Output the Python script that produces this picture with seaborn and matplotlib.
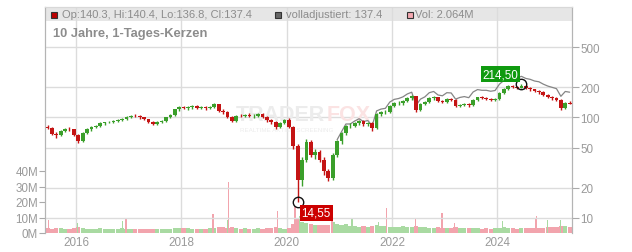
import numpy as np
import pandas as pd
import matplotlib
matplotlib.use("Agg")
import matplotlib.pyplot as plt
from matplotlib.patches import Rectangle
import seaborn as sns

# ---------------- data (monthly candles, Jun 2015 .. May 2025) ----------------
start_year = 2015.417
first_open = 81
closes = [78, 69, 67, 74, 77, 76, 67,
          58, 70, 76, 80, 83, 87, 89, 91, 92, 95, 97, 101,
          104, 103, 100, 96, 90, 86, 90, 92, 100, 106, 120, 126,
          124, 127, 131, 125, 128, 124, 128, 135, 116, 114, 100, 93,
          104, 103, 106, 103, 104, 107, 102, 94, 90, 80, 88, 95,
          80, 52, 24, 38, 57, 42, 45, 38, 29, 25, 42, 58,
          70, 83, 83, 88, 92, 86, 88, 78, 108, 112, 113, 130,
          138, 140, 145, 155, 162, 118, 135, 142, 155, 158, 145, 142,
          152, 150, 130, 134, 136, 132, 150, 158, 155, 154, 150, 152,
          175, 190, 205, 200, 198, 205, 195, 190, 182, 178, 168, 160,
          155, 150, 125, 140, 137.4]
highs = [84, 80, 72, 75, 79, 80, 77,
         69, 71, 78, 82, 85, 89, 91, 93, 95, 97, 99, 103,
         106, 107, 105, 102, 97, 92, 92, 94, 101, 108, 122, 129,
         131, 130, 134, 134, 131, 131, 131, 138, 137, 120, 116, 103,
         106, 108, 109, 110, 107, 110, 110, 104, 96, 92, 90, 97,
         98, 82, 55, 40, 61, 60, 48, 47, 40, 31, 44, 60,
         72, 85, 88, 91, 95, 94, 91, 90, 110, 116, 118, 132,
         142, 146, 149, 158, 166, 164, 138, 146, 158, 162, 160, 149,
         155, 156, 152, 137, 140, 139, 153, 161, 162, 159, 157, 156,
         178, 194, 209, 210, 206, 214.5, 208, 199, 193, 186, 181, 171,
         164, 159, 152, 143, 145]
lows = [76, 67, 63, 65, 72, 73, 65,
        56, 57, 68, 74, 78, 80, 85, 87, 88, 90, 92, 95,
        99, 100, 97, 94, 88, 84, 84, 87, 90, 98, 104, 117,
        120, 119, 122, 120, 121, 119, 121, 124, 113, 108, 98, 89,
        91, 100, 100, 100, 99, 101, 99, 90, 86, 76, 78, 86,
        78, 48, 14.55, 21, 36, 40, 39, 36, 27, 23.5, 24, 40,
        55, 67, 79, 80, 85, 83, 82, 73, 76, 104, 107, 110,
        127, 133, 134, 141, 150, 113, 115, 132, 138, 150, 141, 138,
        139, 146, 126, 127, 130, 128, 130, 147, 151, 150, 146, 147,
        150, 172, 187, 195, 193, 195, 190, 184, 178, 172, 164, 156,
        150, 146, 119, 121, 135]
# volladjustiert (from Dec 2020 on; identical to price before)
adj_start = 66
adjusted = [60,
            72, 86, 86, 92, 97, 91, 93, 83, 116, 121, 123, 142,
            151, 154, 160, 171, 178, 132, 152, 160, 176, 181, 167, 164,
            176, 175, 152, 158, 161, 157, 179, 189, 186, 186, 182, 185,
            214, 233, 253, 248, 246, 256, 244, 239, 230, 226, 214, 205,
            199, 193, 162, 181, 178]
# monthly base volume (millions)
volume = [3.2, 2.8, 3.5, 3.0, 2.6, 2.9, 3.1,
          3.8, 3.4, 2.9, 2.7, 2.5, 3.1, 2.6, 2.4, 2.8, 2.7, 3.3, 2.9,
          2.6, 2.5, 2.8, 2.6, 2.4, 2.7, 2.9, 2.6, 2.5, 2.8, 3.2, 3.0,
          3.4, 3.1, 2.9, 2.7, 2.8, 2.6, 3.0, 3.3, 3.6, 3.9, 3.5, 3.8,
          3.2, 2.9, 3.0, 2.8, 2.7, 3.1, 2.9, 3.3, 3.0, 3.6, 3.2, 2.9,
          3.5, 5.8, 9.5, 7.2, 6.5, 5.8, 5.2, 4.9, 5.4, 5.0, 6.8, 5.6,
          5.2, 5.5, 4.8, 4.3, 4.1, 4.4, 4.0, 4.6, 4.9, 4.2, 4.5, 4.1,
          4.0, 3.8, 4.2, 3.9, 3.6, 4.4, 4.0, 3.7, 3.5, 3.4, 3.6, 3.3,
          3.4, 3.2, 3.6, 3.1, 3.0, 3.2, 3.3, 3.0, 2.9, 3.1, 2.8, 3.0,
          3.4, 3.6, 3.2, 3.0, 2.9, 3.1, 3.5, 3.2, 3.4, 3.0, 3.3, 3.8,
          3.6, 3.9, 4.5, 4.8, 3.9]
# single-day volume spikes
spike_dates = [2015.47, 2016.02, 2016.89, 2016.95, 2018.60, 2018.88, 2018.90,
               2019.83, 2020.16, 2020.25, 2020.86, 2021.24, 2021.75, 2021.90,
               2022.45, 2022.95, 2023.19, 2024.10, 2024.73, 2024.75, 2024.96, 2025.20]
spike_vols = [8.5, 6.5, 8.0, 10.0, 12.5, 8.5, 33.0,
              14.4, 17.6, 11.0, 17.0, 9.7, 7.3, 16.0,
              10.0, 13.0, 6.5, 8.0, 9.0, 11.0, 8.5, 8.5]
spike_up = [False, True, True, False, False, True, False,
            False, False, True, False, True, True, False,
            False, False, False, True, False, False, True, True]

year_ticks = [2016, 2018, 2020, 2022, 2024]
price_ticks = [10, 20, 50, 100, 200, 500]
vol_ticks = [0, 10, 20, 30, 40]

legend_ohlc = "Op:140.3, Hi:140.4, Lo:136.8, Cl:137.4"
legend_adj = "volladjustiert: 137.4"
legend_vol = "Vol: 2.064M"
title = "10 Jahre, 1-Tages-Kerzen"
low_label, high_label = "14,55", "214,50"

# ---------------- styling ----------------
sns.set_style("white")
plt.rcParams['font.family'] = ['Liberation Sans', 'DejaVu Sans']

UP = '#3a9f2a'
DOWN = '#c41414'
VUP = '#a9daa2'
VDOWN = '#f2a4ad'
TXT = '#9a9a9a'
GRID = '#dcdcdc'

n = len(closes)
opens = [first_open] + closes[:-1]
t = start_year + (np.arange(n) + 0.5) / 12.0
df = pd.DataFrame({'t': t, 'open': opens, 'close': closes, 'high': highs,
                   'low': lows, 'vol': volume})
df['up'] = df['close'] >= df['open']

W, H = 632, 253
fig = plt.figure(figsize=(W / 100, H / 100), dpi=100)
left, right, top, bottom = 45, 572, 8, 234
ax = fig.add_axes([left / W, 1 - bottom / H, (right - left) / W, (bottom - top) / H])
ax2 = ax.twinx()

xmin, xmax = 2015.41, 2025.42
ax.set_xlim(xmin, xmax)

# legend band
ax.add_patch(Rectangle((0, (bottom - 22) / (bottom - top)), 1, 1 - (bottom - 22) / (bottom - top),
                       transform=ax.transAxes, facecolor='#e6e6e6', edgecolor='none', zorder=0))
for yr in year_ticks:
    ax.axvline(yr, color=GRID, lw=1, zorder=0.5)

# volume
ax.bar(df['t'], df['vol'], width=1 / 12 * 0.95,
       color=[VUP if u else VDOWN for u in df['up']], linewidth=0, zorder=1)
ax.bar(spike_dates, spike_vols, width=0.022,
       color=[VUP if u else VDOWN for u in spike_up], linewidth=0, zorder=1.2)
ax.set_ylim(0, (bottom - top) / 15.5 * 10)
ax.set_yticks(vol_ticks)
ax.set_yticklabels([f"{v}M" for v in vol_ticks])
ax.set_xticks(year_ticks)
ax.set_xticklabels([str(y) for y in year_ticks])
ax.tick_params(axis='y', left=True, length=4, color='#aaaaaa', labelcolor=TXT,
               labelsize=8.4, pad=1)
ax.tick_params(axis='x', bottom=False, length=0, labelcolor=TXT, labelsize=8.4, pad=2)

# price (log)
ax2.set_yscale('log')
y_lo = 10 * 10 ** ((219 - bottom) / 100.6)
y_hi = 10 * 10 ** ((219 - top) / 100.6)
ax2.set_ylim(y_lo, y_hi)
ax2.set_yticks(price_ticks)
ax2.set_yticklabels([str(p) for p in price_ticks])
ax2.yaxis.set_minor_locator(matplotlib.ticker.NullLocator())
ax2.tick_params(axis='y', right=True, length=5, color='#aaaaaa', labelcolor=TXT,
                labelsize=8.4, pad=1)
for p in price_ticks:
    ax2.axhline(p, color=GRID, lw=1, zorder=0.6)

# adjusted line
adj_df = pd.DataFrame({'t': t[adj_start:], 'adj': adjusted})
sns.lineplot(data=adj_df, x='t', y='adj', ax=ax2, color='#858585', lw=0.9, zorder=2)

# candles
cols = [UP if u else DOWN for u in df['up']]
ax2.vlines(df['t'], df['low'], df['high'], colors=cols, lw=1.0, zorder=3)
body_lo = np.minimum(df['open'], df['close'])
body_hi = np.maximum(df['open'], df['close'])
ax2.bar(df['t'], body_hi - body_lo, bottom=body_lo, width=1 / 12 * 0.85,
        color=cols, linewidth=0, zorder=3)

# min / max markers
i_lo = int(np.argmin(lows))
i_hi = int(np.argmax(highs))
for i in (i_lo, i_hi):
    ax2.plot(t[i], lows[i] if i == i_lo else highs[i], marker='o', ms=7.5,
             mfc='none', mec='#111111', mew=1, zorder=5)
ax2.annotate(low_label, xy=(t[i_lo], lows[i_lo]), xytext=(4, -11), textcoords='offset pixels',
             ha='left', va='center', color='white', fontsize=8.4, zorder=6,
             bbox=dict(boxstyle='square,pad=0.18', fc='#cc0000', ec='none'))
ax2.annotate(high_label, xy=(t[i_hi], highs[i_hi]), xytext=(-3, 10), textcoords='offset pixels',
             ha='right', va='center', color='white', fontsize=8.4, zorder=6,
             bbox=dict(boxstyle='square,pad=0.18', fc='#109a10', ec='none'))
ax2.set_xlabel('')
ax2.set_ylabel('')
ax.set_xlabel('')
ax.set_ylabel('')

# watermark (FOX placed right after the measured end of TRADER)
wm1 = ax2.text(236, H - 116, "TRADER", transform=None, fontsize=15.5, fontweight='bold',
               color='#ececec', va='center', ha='left', zorder=0.7)
fig.canvas.draw()
bb = wm1.get_window_extent(renderer=fig.canvas.get_renderer())
ax2.text(bb.x1 + 1, H - 116, "FOX", transform=None, fontsize=15.5, fontweight='bold',
         color='#fbe3e3', va='center', ha='left', zorder=0.7)
ax2.text(240, H - 131, "REALTIME AKTIEN SCREENING", transform=None, fontsize=4.5,
         color='#ececec', va='center', ha='left', zorder=0.7)

# spines
for a in (ax, ax2):
    a.spines['bottom'].set_visible(False)
    a.spines['top'].set_color('#d8d8d8')
    a.spines['left'].set_color('#b4b4b4')
    a.spines['right'].set_color('#b4b4b4')
    a.set_xlim(xmin, xmax)

# legend band contents
def px(x, y):
    return x / W, 1 - y / H

fig.patches.append(Rectangle(px(51, 18.5), 5.5 / W, 5.5 / H, transform=fig.transFigure,
                             facecolor='#bb0000', edgecolor='#333333', lw=0.8, zorder=10))
fig.patches.append(Rectangle(px(275, 18.5), 5.5 / W, 5.5 / H, transform=fig.transFigure,
                             facecolor='#666666', edgecolor='#333333', lw=0.8, zorder=10))
fig.patches.append(Rectangle(px(407, 18.5), 5.5 / W, 5.5 / H, transform=fig.transFigure,
                             facecolor='#f4a8b0', edgecolor='#333333', lw=0.8, zorder=10))
fig.text(*px(62.5, 15.5), legend_ohlc, fontsize=8, color='#8c8c8c', va='center', ha='left')
fig.text(*px(286, 15.5), legend_adj, fontsize=8, color='#8c8c8c', va='center', ha='left')
fig.text(*px(415, 15.5), legend_vol, fontsize=8, color='#8c8c8c', va='center', ha='left')
fig.text(*px(53, 34), title, fontsize=9.3, fontweight='bold', color='#8c8c8c',
         va='center', ha='left')

fig.savefig('out.png', dpi=100)
